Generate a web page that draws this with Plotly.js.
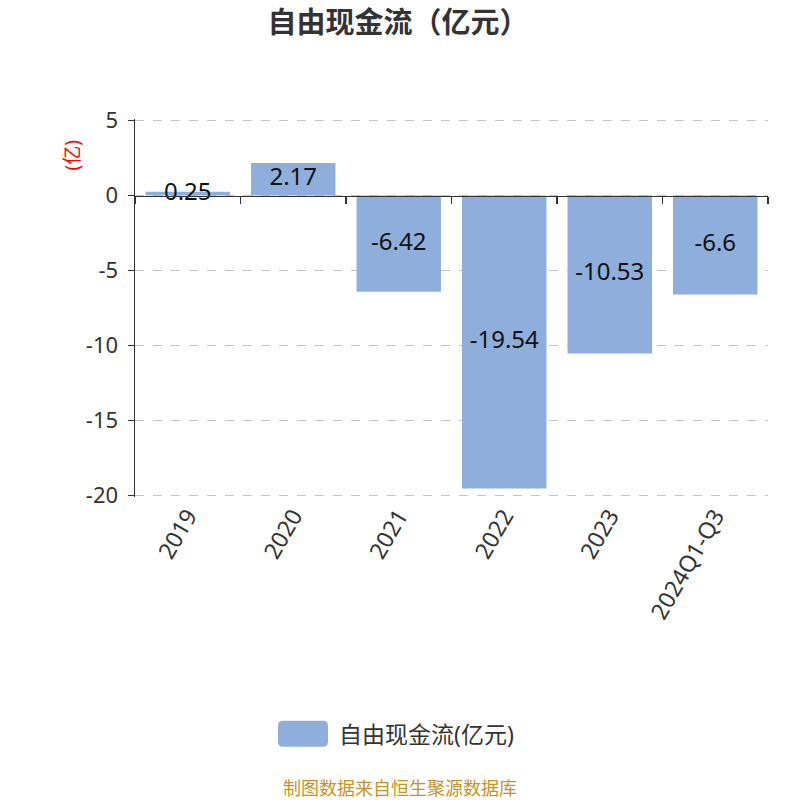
<!DOCTYPE html>
<html>
<head>
<meta charset="utf-8">
<script src="https://cdn.plot.ly/plotly-3.0.1.min.js"></script>
<style>
  html, body { margin: 0; padding: 0; background: #fff; }
  #chart { width: 800px; height: 800px; }
</style>
</head>
<body>
<div id="chart"></div>
<script>
// 自由现金流 — yearly values, in 亿元
const years = ['2019', '2020', '2021', '2022', '2023', '2024Q1-Q3'];
const freeCashFlow = [0.25, 2.17, -6.42, -19.54, -10.53, -6.6];
const yTicks = [5, 0, -5, -10, -15, -20];

const FONT = '"Noto Sans", "Noto Sans CJK SC", sans-serif';
const BAR_COLOR = '#8eaedb';

const bars = {
  type: 'bar', x: years, y: freeCashFlow,
  marker: { color: BAR_COLOR },
  name: '自由现金流(亿元)',
  hoverinfo: 'skip', showlegend: false
};

// value labels sit at the middle of each bar
const labels = {
  type: 'scatter', mode: 'text',
  x: years, y: freeCashFlow.map(v => v / 2),
  xaxis: 'x2',
  text: freeCashFlow.map(v => String(v)),
  textposition: 'middle center',
  textfont: { family: FONT, size: 24, color: '#111' },
  showlegend: false, hoverinfo: 'skip'
};

// plot area: 135..768 px wide, 118.5..497.5 px tall (range padded a hair so edge gridlines show)
const Y0 = 118.5, Y1 = 497.5;
const px = X => (X - 135) / 633;
const py = Y => (Y1 - Y) / (Y1 - Y0);
const yRange = [-20.1, 5.1];

const layout = {
  width: 800, height: 800,
  margin: { t: Y0, r: 32, b: 800 - Y1, l: 135 },
  paper_bgcolor: '#fff', plot_bgcolor: '#fff',
  font: { family: FONT, color: '#333' },
  title: { text: '<b>自由现金流（亿元）</b>', x: 398 / 800, xanchor: 'center',
           y: 1 - 23 / 800, yanchor: 'middle',
           font: { family: FONT, size: 29, color: '#333' } },
  bargap: 0.2,
  xaxis: {
    type: 'category', showline: false, ticks: '', showgrid: false, zeroline: false,
    tickangle: -60, tickfont: { family: FONT, size: 23, color: '#333' },
    automargin: false
  },
  xaxis2: {
    type: 'category', overlaying: 'x', matches: 'x', anchor: 'free',
    position: (0 - yRange[0]) / (yRange[1] - yRange[0]),
    showline: true, linecolor: '#333', linewidth: 1.5,
    ticks: 'outside', tickson: 'boundaries', ticklen: 7, tickcolor: '#333', tickwidth: 1.5,
    showticklabels: false, showgrid: false, zeroline: false
  },
  yaxis: {
    range: yRange, tickvals: yTicks, ticktext: yTicks.map(String),
    showline: true, linecolor: '#333', linewidth: 1.5,
    ticks: 'outside', ticklen: 6, tickcolor: '#333', tickwidth: 1.5,
    ticklabelstandoff: 5,
    tickfont: { family: FONT, size: 22, color: '#333' },
    showgrid: true, gridcolor: '#c4c4c4', griddash: 'dash', gridwidth: 1.2,
    zeroline: false, automargin: false
  },
  shapes: [
    { type: 'path', xref: 'paper', yref: 'paper', xsizemode: 'pixel', ysizemode: 'pixel',
      xanchor: px(303), yanchor: py(735),
      path: 'M -20,-13 L 20,-13 Q 25,-13 25,-8 L 25,8 Q 25,13 20,13 L -20,13 Q -25,13 -25,8 L -25,-8 Q -25,-13 -20,-13 Z',
      fillcolor: BAR_COLOR, line: { width: 0 } }
  ],
  annotations: [
    { text: '(亿)', xref: 'paper', yref: 'paper', x: px(72), y: py(155), xanchor: 'center', yanchor: 'middle',
      textangle: -90, showarrow: false, font: { family: FONT, size: 19, color: '#ff0000' } },
    { text: '自由现金流(亿元)', xref: 'paper', yref: 'paper', x: px(337), y: py(735),
      xanchor: 'left', yanchor: 'middle', showarrow: false,
      font: { family: FONT, size: 23, color: '#333' } },
    { text: '制图数据来自恒生聚源数据库', xref: 'paper', yref: 'paper', x: px(400), y: py(789),
      xanchor: 'center', yanchor: 'middle', showarrow: false,
      font: { family: FONT, size: 18, color: '#c8922a' } }
  ],
  showlegend: false
};

Plotly.newPlot('chart', [bars, labels], layout, { displayModeBar: false, staticPlot: true });
</script>
</body>
</html>
